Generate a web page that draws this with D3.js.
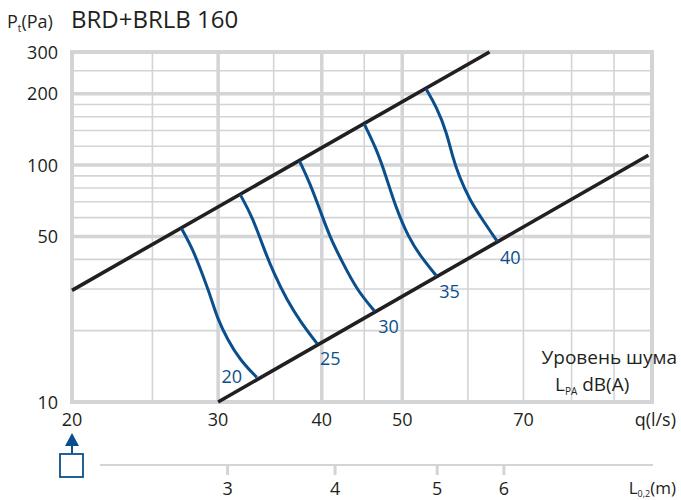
<!DOCTYPE html>
<html>
<head>
<meta charset="utf-8">
<script src="https://cdn.jsdelivr.net/npm/d3@7"></script>
<style>
  html, body { margin: 0; padding: 0; background: #fff; }
  svg text { font-family: "Open Sans", "Noto Sans", sans-serif; fill: #231f20; }
</style>
</head>
<body>
<svg id="chart" width="681" height="500"></svg>
<script>
// tick labels
const yTicks = [10, 50, 100, 200, 300];
const xTicks = [20, 30, 40, 50, 70];
const yGridThin = [20, 30, 40, 60, 70, 80, 90, 120, 140, 160, 180, 250];
const yGridThick = [50, 100, 200];
const xGridThin = [25, 35, 45, 60, 70, 80, 90];
const xGridThick = [30, 40, 50];

// throw length scale: L0,2 value and the flow it sits under
const throwTicks = [3, 4, 5, 6];
const throwAtFlow = [30.8, 41.5, 55.1, 66.3];

// working range limits [q, Pt]
const upperLimit = [[20, 29.6], [63.7, 300]];
const lowerLimit = [[30, 10], [99, 110]];

// noise level curves [q, Pt]
const noiseLevels = [20, 25, 30, 35, 40];
const curve20 = [[27.1, 54], [28.0, 43.8], [28.8, 33.7], [29.4, 27.7], [29.9, 22.8], [30.8, 18.3], [31.9, 15.0], [33.4, 12.7]];
const curve25 = [[31.9, 75], [33.0, 60.3], [34.0, 45.1], [35.0, 35.0], [36.3, 27.0], [37.7, 21.8], [39.5, 17.6]];
const curve30 = [[37.6, 104], [38.7, 84.0], [39.8, 64.6], [40.9, 49.7], [42.4, 38.6], [44.1, 29.7], [46.3, 24.2]];
const curve35 = [[45.0, 149], [46.5, 118], [47.8, 89.9], [49.0, 67.8], [50.9, 49.2], [52.8, 40.5], [55.0, 34.0]];
const curve40 = [[53.4, 210], [55.0, 176], [56.6, 136.5], [57.5, 108], [58.6, 89.0], [60.3, 71.2], [62.5, 58.6], [65.1, 47.6]];
const curves = [curve20, curve25, curve30, curve35, curve40];

// label placement relative to the curve end (px)
const labelOffset = [[-25, 6], [13, 21], [14, 22], [13, 22], [13, 23]];

const BLUE = "#0a4f8c";
const GRID = "#d3d4d6";
const INK = "#231f20";

const svg = d3.select("#chart");

const x = d3.scaleLog().domain([20, 100]).range([72, 652]);
const y = d3.scaleLog().domain([10, 300]).range([402, 52]);

const line = d3.line().x(d => x(d[0])).y(d => y(d[1]));
const smooth = d3.line().x(d => x(d[0])).y(d => y(d[1])).curve(d3.curveBasis);

// grid
const grid = svg.append("g");
grid.selectAll("line.hthin").data(yGridThin).join("line")
  .attr("x1", x(20)).attr("x2", x(100))
  .attr("y1", d => y(d)).attr("y2", d => y(d))
  .attr("stroke", GRID).attr("stroke-width", 1.6);
grid.selectAll("line.vthin").data(xGridThin).join("line")
  .attr("x1", d => x(d)).attr("x2", d => x(d))
  .attr("y1", y(10)).attr("y2", y(300))
  .attr("stroke", GRID).attr("stroke-width", 1.6);
grid.selectAll("line.hthick").data(yGridThick).join("line")
  .attr("x1", x(20)).attr("x2", x(100))
  .attr("y1", d => y(d)).attr("y2", d => y(d))
  .attr("stroke", GRID).attr("stroke-width", 3.5);
grid.selectAll("line.vthick").data(xGridThick).join("line")
  .attr("x1", d => x(d)).attr("x2", d => x(d))
  .attr("y1", y(10)).attr("y2", y(300))
  .attr("stroke", GRID).attr("stroke-width", 3.5);
grid.append("rect")
  .attr("x", x(20)).attr("y", y(300))
  .attr("width", x(100) - x(20)).attr("height", y(10) - y(300))
  .attr("fill", "none").attr("stroke", GRID).attr("stroke-width", 4);

// limit lines
[upperLimit, lowerLimit].forEach(pts => {
  svg.append("path")
    .attr("d", line(pts))
    .attr("fill", "none")
    .attr("stroke", INK)
    .attr("stroke-width", 3.6);
});

// noise curves
curves.forEach((pts, i) => {
  svg.append("path")
    .attr("d", smooth(pts))
    .attr("fill", "none")
    .attr("stroke", BLUE)
    .attr("stroke-width", 3);

  const end = pts[pts.length - 1];
  svg.append("text")
    .attr("x", x(end[0]) + labelOffset[i][0])
    .attr("y", y(end[1]) + labelOffset[i][1])
    .attr("text-anchor", "middle")
    .attr("font-size", 18)
    .style("fill", BLUE)
    .text(noiseLevels[i]);
});

// y tick labels
svg.selectAll("text.ytick").data(yTicks).join("text")
  .attr("class", "ytick")
  .attr("x", 58)
  .attr("y", d => y(d) + 6.5)
  .attr("text-anchor", "end")
  .attr("font-size", 18)
  .text(d => d);

// x tick labels
svg.selectAll("text.xtick").data(xTicks).join("text")
  .attr("class", "xtick")
  .attr("x", d => x(d))
  .attr("y", 426)
  .attr("text-anchor", "middle")
  .attr("font-size", 18)
  .text(d => d);

svg.append("text")
  .attr("x", 676).attr("y", 426)
  .attr("text-anchor", "end")
  .attr("font-size", 18)
  .text("q(l/s)");

// title and y label
const pt = svg.append("text").attr("x", 7).attr("y", 28).attr("font-size", 18);
pt.append("tspan").text("P");
pt.append("tspan").attr("font-size", 10).attr("dy", 4).text("t");
pt.append("tspan").attr("dy", -4).text("(Pa)");

svg.append("text")
  .attr("x", 71).attr("y", 28)
  .attr("font-size", 24)
  .text("BRD+BRLB 160");

// legend
svg.append("text")
  .attr("x", 677).attr("y", 364)
  .attr("text-anchor", "end")
  .attr("font-size", 19)
  .text("Уровень шума");
const lpa = svg.append("text").attr("x", 555).attr("y", 391).attr("font-size", 19);
lpa.append("tspan").text("L");
lpa.append("tspan").attr("font-size", 10).attr("dy", 4).text("PA");
lpa.append("tspan").attr("dy", -4).text(" dB(A)");

// arrow + box marker under q = 20
const ax = x(20);
svg.append("path")
  .attr("d", `M${ax},433 L${ax - 7},446 L${ax + 7},446 Z`)
  .attr("fill", BLUE);
svg.append("line")
  .attr("x1", ax).attr("x2", ax).attr("y1", 445).attr("y2", 453)
  .attr("stroke", BLUE).attr("stroke-width", 2);
svg.append("rect")
  .attr("x", ax - 12).attr("y", 454).attr("width", 23).attr("height", 23)
  .attr("fill", "#fff").attr("stroke", BLUE).attr("stroke-width", 1.8);

// throw length axis
svg.append("line")
  .attr("x1", 100).attr("x2", 653).attr("y1", 465).attr("y2", 465)
  .attr("stroke", GRID).attr("stroke-width", 2);
svg.selectAll("line.ltick").data(throwTicks).join("line")
  .attr("x1", (d, i) => x(throwAtFlow[i])).attr("x2", (d, i) => x(throwAtFlow[i]))
  .attr("y1", 465).attr("y2", 475)
  .attr("stroke", GRID).attr("stroke-width", 3);
svg.selectAll("text.ltick").data(throwTicks).join("text")
  .attr("x", (d, i) => x(throwAtFlow[i]))
  .attr("y", 495)
  .attr("text-anchor", "middle")
  .attr("font-size", 18)
  .text(d => d);

const l02 = svg.append("text").attr("x", 676).attr("y", 494).attr("text-anchor", "end").attr("font-size", 17);
l02.append("tspan").text("L");
l02.append("tspan").attr("font-size", 9).attr("dy", 3).text("0,2");
l02.append("tspan").attr("dy", -3).text("(m)");
</script>
</body>
</html>
